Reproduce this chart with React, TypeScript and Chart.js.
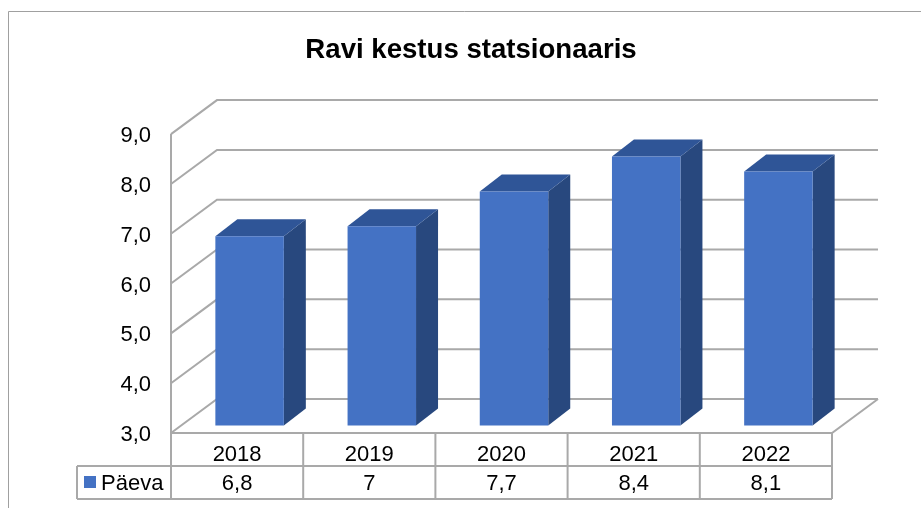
import React, { useEffect, useRef } from "react";
import { Chart, registerables } from "chart.js";

Chart.register(...registerables);

const categories = ["2018", "2019", "2020", "2021", "2022"];
const seriesName = "Päeva";
const values = [6.8, 7, 7.7, 8.4, 8.1];
const chartTitle = "Ravi kestus statsionaaris";
const axisMin = 3;
const axisMax = 9;

const FONT = "'Liberation Sans', Arial, sans-serif";
const GRID = "#a9a9a9";
const FRONT = "#4472c4";
const TOP = "#2f5597";
const SIDE = "#28487e";
const WALL_DX = 46;
const WALL_DY = -34;
const BAR_SHIFT_X = 12.5;
const BAR_SHIFT_Y = -7.5;
const BAR_DX = 22;
const BAR_DY = -17;
const ROW_H = 33;

const comma = (v: number, digits?: number) =>
  (digits === undefined ? String(v) : v.toFixed(digits)).replace(".", ",");

const line = (ctx: CanvasRenderingContext2D, pts: number[][]) => {
  ctx.beginPath();
  pts.forEach(([x, y], i) => (i ? ctx.lineTo(x, y) : ctx.moveTo(x, y)));
  ctx.stroke();
};

const poly = (ctx: CanvasRenderingContext2D, pts: number[][], fill: string) => {
  ctx.fillStyle = fill;
  ctx.beginPath();
  pts.forEach(([x, y], i) => (i ? ctx.lineTo(x, y) : ctx.moveTo(x, y)));
  ctx.closePath();
  ctx.fill();
};

const frame3d = {
  id: "frame3d",
  beforeDraw(chart: any) {
    const { ctx, width, height } = chart;
    ctx.save();
    ctx.fillStyle = "#ffffff";
    ctx.fillRect(0, 0, width, height);
    ctx.strokeStyle = "#a0a0a0";
    ctx.lineWidth = 1;
    line(ctx, [[8.5, height], [8.5, 11.5], [width, 11.5]]);
    ctx.restore();
  },
  beforeDatasetsDraw(chart: any) {
    const { ctx, scales } = chart;
    const { left, right } = chart.chartArea;
    const y = scales.y;
    ctx.save();
    ctx.strokeStyle = GRID;
    ctx.lineWidth = 2;
    y.ticks.forEach((t: any) => {
      const py = y.getPixelForValue(t.value);
      line(ctx, [
        [left, py],
        [left + WALL_DX, py + WALL_DY],
        [right + WALL_DX, py + WALL_DY],
      ]);
    });
    const bottom = y.getPixelForValue(y.min);
    const top = y.getPixelForValue(y.max);
    line(ctx, [[left, top], [left, bottom], [right, bottom], [right + WALL_DX, bottom + WALL_DY]]);
    ctx.restore();
  },
  beforeDatasetDraw(chart: any, args: any) {
    const { ctx } = chart;
    ctx.save();
    ctx.translate(BAR_SHIFT_X, BAR_SHIFT_Y);
    args.meta.data.forEach((bar: any) => {
      const { x, y, base, width: w } = bar.getProps(["x", "y", "base", "width"], true);
      const l = x - w / 2;
      const r = x + w / 2;
      poly(ctx, [[r, y], [r + BAR_DX, y + BAR_DY], [r + BAR_DX, base + BAR_DY], [r, base]], SIDE);
      poly(ctx, [[l, y], [l + BAR_DX, y + BAR_DY], [r + BAR_DX, y + BAR_DY], [r, y]], TOP);
    });
  },
  afterDatasetDraw(chart: any) {
    chart.ctx.restore();
  },
  afterDraw(chart: any) {
    const { ctx, scales } = chart;
    const { left, right } = chart.chartArea;
    const x = scales.x;
    const y0 = scales.y.getPixelForValue(scales.y.min);
    const half = (x.getPixelForTick(1) - x.getPixelForTick(0)) / 2;
    const r1 = y0 + ROW_H;
    const r2 = r1 + ROW_H;
    const labelLeft = left - 94;
    ctx.save();
    ctx.strokeStyle = GRID;
    ctx.lineWidth = 2;
    line(ctx, [[labelLeft, r1], [right, r1]]);
    line(ctx, [[labelLeft, r2], [right, r2]]);
    line(ctx, [[labelLeft, r1], [labelLeft, r2]]);
    line(ctx, [[left, y0], [left, r2]]);
    categories.forEach((_, i) => {
      const p = x.getPixelForTick(i) + half;
      line(ctx, [[p, y0], [p, r2]]);
    });
    ctx.fillStyle = "#000000";
    ctx.font = `22px ${FONT}`;
    ctx.textBaseline = "middle";
    ctx.textAlign = "center";
    values.forEach((v, i) => ctx.fillText(comma(v), x.getPixelForTick(i), r1 + ROW_H / 2 + 1));
    ctx.textAlign = "left";
    ctx.fillText(seriesName, labelLeft + 24, r1 + ROW_H / 2 + 1);
    ctx.fillStyle = FRONT;
    ctx.fillRect(labelLeft + 7, r1 + 10, 12, 12);
    ctx.restore();
  },
};

export default function App() {
  const ref = useRef<HTMLCanvasElement>(null);
  useEffect(() => {
    const chart = new Chart(ref.current!, {
      type: "bar",
      data: {
        labels: categories,
        datasets: [
          {
            label: seriesName,
            data: values,
            base: axisMin,
            backgroundColor: FRONT,
            borderWidth: 0,
            barPercentage: 0.518,
            categoryPercentage: 1,
            clip: false,
          } as any,
        ],
      },
      plugins: [frame3d],
      options: {
        responsive: false,
        animation: false,
        devicePixelRatio: 1,
        layout: { padding: { left: 110, right: 89, top: 0, bottom: 0 } },
        plugins: {
          legend: { display: false },
          tooltip: { enabled: false },
          title: {
            display: true,
            text: chartTitle,
            color: "#000000",
            align: "center",
            font: { family: FONT, size: 27.6, weight: "bold" },
            padding: { top: 34, bottom: 67 },
          },
        },
        scales: {
          x: {
            border: { display: false },
            grid: { display: false, drawTicks: false },
            ticks: {
              color: "#000000",
              font: { family: FONT, size: 22 },
              padding: 9,
              maxRotation: 0,
            },
            afterFit(s: any) {
              s.height = 75;
            },
          },
          y: {
            min: axisMin,
            max: axisMax,
            border: { display: false },
            grid: { display: false, drawTicks: false },
            ticks: {
              stepSize: 1,
              color: "#000000",
              font: { family: FONT, size: 22 },
              padding: 20,
              labelOffset: 2,
              callback: (v: any) => comma(Number(v), 1),
            },
            afterFit(s: any) {
              s.width = 61;
            },
          },
        },
      },
    } as any);
    return () => chart.destroy();
  }, []);
  return (
    <canvas
      ref={ref}
      width={921}
      height={508}
      style={{ position: "fixed", left: 0, top: 0, display: "block" }}
    />
  );
}
